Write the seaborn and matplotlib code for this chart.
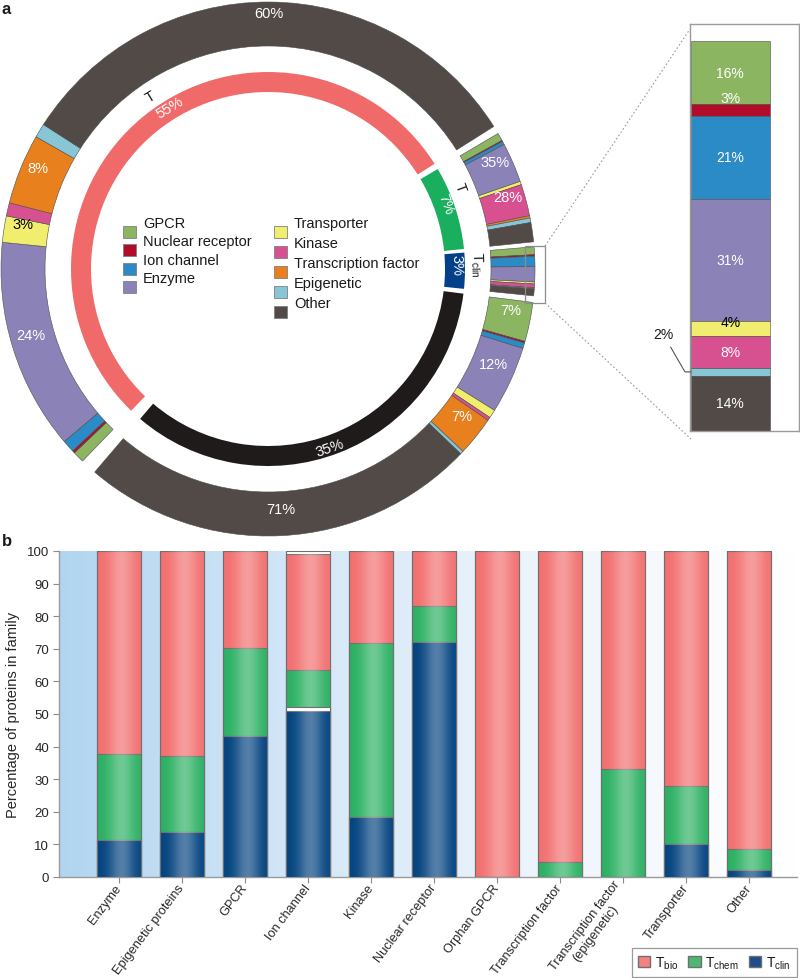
import numpy as np
import matplotlib
matplotlib.use("Agg")
import matplotlib.pyplot as plt
from matplotlib.patches import Rectangle, Patch
from matplotlib.colors import LinearSegmentedColormap
import seaborn as sns

# ---- panel a : target development level rings ----
tiers = ["Tbio", "Tchem", "Tclin", "Tdark"]
tier_pct = [55, 7, 3, 35]
tier_gap = [0.5, 0.3, 0.4, 1.0]          # blank space after each tier (% of circle)
tier_colors = ["#f06a6a", "#1aae5f", "#03408a", "#1f1b1b"]
tier_tags = ["T", "T", r"T$_{\mathrm{clin}}$", ""]

families = ["GPCR", "Nuclear receptor", "Ion channel", "Enzyme", "Transporter",
            "Kinase", "Transcription factor", "Epigenetic", "Other"]
family_colors = ["#8cb562", "#b10d2b", "#2a8bc7", "#8b83b8", "#f1ed6f",
                 "#d75190", "#e8801e", "#87c7d5", "#524a47"]

# share of every family inside a tier (%), same order as families
share_tbio = [1.3, 0.3, 1.4, 24, 3, 1.5, 8, 1.6, 60]
share_tchem = [7, 1, 3, 35, 3, 28, 2, 4, 17]
share_tclin = [16, 3, 21, 31, 4, 8, 0, 2, 14]
share_tdark = [7, 0.3, 1, 12, 1.5, 0.6, 7, 0.6, 71]

outer_labels = [("Tbio", "Enzyme"), ("Tbio", "Transporter"), ("Tbio", "Transcription factor"),
                ("Tbio", "Other"), ("Tchem", "Enzyme"), ("Tchem", "Kinase"),
                ("Tdark", "GPCR"), ("Tdark", "Enzyme"), ("Tdark", "Transcription factor"),
                ("Tdark", "Other")]

# ---- panel b : TDL per protein family (%) ----
fam_b = ["Enzyme", "Epigenetic proteins", "GPCR", "Ion channel", "Kinase",
         "Nuclear receptor", "Orphan GPCR", "Transcription factor",
         "Transcription factor\n(epigenetic)", "Transporter", "Other"]
tclin_b = [11.2, 13.8, 43.1, 51.0, 18.3, 72.2, 0, 0, 0, 10.2, 2.3]
gap_mid_b = [0, 0, 0, 1.0, 0, 0, 0, 0, 0, 0, 0]
tchem_b = [26.5, 23.2, 27.2, 11.5, 53.5, 10.9, 0, 4.6, 33.1, 17.6, 6.2]
tbio_b = [62.3, 63.0, 29.7, 35.5, 28.2, 16.9, 100, 95.4, 66.9, 72.2, 91.5]
gap_top_b = [0, 0, 0, 1.0, 0, 0, 0, 0, 0, 0, 0]
bar_colors = {"Tbio": "#f26f6f", "Tchem": "#2bb062", "Tclin": "#03437f"}

sns.set_style("white")
plt.rcParams["font.family"] = ["Liberation Sans", "DejaVu Sans"]
plt.rcParams["mathtext.fontset"] = "custom"
plt.rcParams["mathtext.rm"] = "Liberation Sans"
plt.rcParams["mathtext.it"] = "Liberation Sans:italic"
plt.rcParams["text.color"] = "#1a1a1a"

W, H = 800, 979
fig = plt.figure(figsize=(W / 100, H / 100), dpi=100)

# ring axes works in pixels (y up)
ax = fig.add_axes([0, 0, 1, 1])
cx, cy = 268, H - 270
r_in, w_in = 197, 20
r_out, w_out = 267, 44

total = sum(tier_pct) + sum(tier_gap)
starts = []
a = 226.0
for p, g in zip(tier_pct, tier_gap):
    starts.append(a)
    a -= 360 * (p + g) / total

vals, cols = [], []
for p, g, c in zip(tier_pct, tier_gap, tier_colors):
    vals += [p, g]
    cols += [c, "none"]
inner, _ = ax.pie(vals, colors=cols, radius=r_in, center=(cx, cy), startangle=226,
                  counterclock=False, wedgeprops=dict(width=w_in, linewidth=0))

shares = [share_tbio, share_tchem, share_tclin, share_tdark]
outer = {}
for k, t in enumerate(tiers):
    s = np.array(shares[k], float)
    v = s / s.sum() * tier_pct[k] / total
    wd, _ = ax.pie(v, colors=family_colors, radius=r_out, center=(cx, cy),
                   startangle=starts[k], counterclock=False, normalize=False,
                   wedgeprops=dict(width=w_out, edgecolor="#4d4d4d", linewidth=0.4))
    for i, f in enumerate(families):
        outer[(t, f)] = (wd[i], s[i])


def mid(w):
    m = 0.5 * (w.theta1 + w.theta2)
    return (m + 180) % 360 - 180


def polar(r, ang):
    return cx + r * np.cos(np.radians(ang)), cy + r * np.sin(np.radians(ang))


for t, f in outer_labels:
    w, s = outer[(t, f)]
    x, y = polar(248, mid(w))
    ax.text(x, y + 8, f"{s:.0f}%", color="black" if f == "Transporter" else "white",
            ha="center", va="center", fontsize=10.5)

label_shift = [-8, 2, 2, -2]
for k, t in enumerate(tiers):
    m = mid(inner[2 * k]) + label_shift[k]
    rot = m - 90 if m > -30 else m + 90
    x, y = polar(r_in - w_in / 2 + 2, m)
    ax.text(x, y, f"{tier_pct[k]}%", color="white", rotation=rot, rotation_mode="anchor",
            ha="center", va="center", fontsize=10.5)
    if tier_tags[k]:
        x, y = polar(r_in + 12, m + (3 if k < 2 else 0))
        ax.text(x, y, tier_tags[k], rotation=rot, rotation_mode="anchor",
                ha="center", va="center", fontsize=10.5)

# legend in the middle of the ring
for x0, names, y0, dy in [(123, families[:4], 224, 18.4), (274, families[4:], 224, 20)]:
    for i, name in enumerate(names):
        yt = y0 + i * dy
        ax.add_patch(Rectangle((x0, H - (yt + 15)), 13, 12,
                               facecolor=family_colors[families.index(name)],
                               edgecolor="#808080", lw=0.6))
        ax.text(x0 + 20, H - yt, name, ha="left", va="center", fontsize=10.5)

# zoom marker + connectors
ax.add_patch(Rectangle((525, H - 304), 20, 57, fill=False, edgecolor="#8c8c8c", lw=0.9))
ax.plot([545, 690], [H - 247, H - 30], ls=(0, (1.5, 2)), color="#9a9a9a", lw=0.8)
ax.plot([545, 691], [H - 304, H - 440], ls=(0, (1.5, 2)), color="#9a9a9a", lw=0.8)
ax.set_xlim(0, W)
ax.set_ylim(0, H)
ax.set_aspect("auto")
ax.axis("off")

# inset: Tclin breakdown
ax_in = fig.add_axes([690 / W, 1 - 432 / H, 109 / W, 407 / H])
s = np.array(share_tclin, float)
bottoms = np.concatenate([[0], np.cumsum(s)[:-1]])
ax_in.bar(np.full(len(s), 0.01), s, bottom=bottoms, width=0.72, align="edge",
          color=family_colors, edgecolor="#4d4d4d", linewidth=0.4)
ax_in.set_xlim(0, 1)
ax_in.set_ylim(s.sum(), -s.sum() * 17 / 390)
for i, f in enumerate(families):
    if s[i] == 0:
        continue
    lab = f"{s[i]:.0f}%"
    if f == "Nuclear receptor":
        ax_in.text(0.37, bottoms[i] - 1.6, lab, color="white", ha="center", va="center", fontsize=10)
    elif f == "Transporter":
        ax_in.text(0.37, bottoms[i] + 0.3, lab, color="black", ha="center", va="center", fontsize=10)
    elif f == "Epigenetic":
        ax_in.annotate(lab, xy=(0.01, bottoms[i] + s[i] / 2), xytext=(-20, 27),
                       textcoords="offset points", ha="center", va="center", fontsize=10,
                       annotation_clip=False,
                       arrowprops=dict(arrowstyle="-", color="#555555", lw=0.8, shrinkA=2, shrinkB=0,
                                       connectionstyle="angle,angleA=-60,angleB=0,rad=0"))
    else:
        ax_in.text(0.37, bottoms[i] + s[i] / 2, lab, color="white", ha="center", va="center", fontsize=10)
ax_in.set_xticks([])
ax_in.set_yticks([])
for sp in ax_in.spines.values():
    sp.set_color("#9a9a9a")
    sp.set_linewidth(1)

# ---- panel b ----
axb = fig.add_axes([59 / W, 1 - 878 / H, 738 / W, 326 / H])
xl = (-0.952, 10.762)
bg = LinearSegmentedColormap.from_list("bg", ["#b1d5f0", "#d4e7f7", "#eef5fc", "#ffffff"])
axb.imshow(np.linspace(0, 1, 256)[None, :], cmap=bg, extent=(xl[0], xl[1], 0, 100),
           aspect="auto", zorder=0)

c1 = np.array(tclin_b)
c2 = c1 + np.array(gap_mid_b)
c3 = c2 + np.array(tchem_b)
c4 = c3 + np.array(tbio_b)
c5 = c4 + np.array(gap_top_b)
layers = [(c5, "white", False), (c4, bar_colors["Tbio"], True), (c3, bar_colors["Tchem"], True),
          (c2, "white", False), (c1, bar_colors["Tclin"], True)]

g = np.linspace(0, 1, 64)
shine = np.ones((1, 64, 4))
shine[..., 3] = 0.32 * np.exp(-((g - 0.55) / 0.28) ** 2)

for j, (h, col, shade) in enumerate(layers):
    n0 = len(axb.patches)
    sns.barplot(x=fam_b, y=h, color=col, saturation=1, width=0.7, edgecolor="#6e6e6e",
                linewidth=0.8, errorbar=None, ax=axb)
    z = 2 + 2 * j
    for p in axb.patches[n0:]:
        p.set_zorder(z)
        if shade and p.get_height() > 0:
            x0, y0 = p.get_x(), p.get_y()
            im = axb.imshow(shine, extent=(x0, x0 + p.get_width(), y0, y0 + p.get_height()),
                            aspect="auto", zorder=z + 0.5, interpolation="bilinear")
            im.set_clip_path(p)

axb.set_xlim(xl)
axb.set_ylim(0, 100)
axb.set_yticks(range(0, 101, 10))
axb.set_xticks(range(len(fam_b)))
axb.set_xticklabels(fam_b, rotation=53, ha="right", va="center", rotation_mode="anchor",
                    multialignment="center", fontsize=9.2)
axb.tick_params(axis="both", length=4, width=0.8, color="#8a8a8a", labelsize=9.5,
                left=True, bottom=True, pad=3)
axb.tick_params(axis="x", labelsize=9.2, pad=2)
axb.set_xlabel("")
axb.set_ylabel("Percentage of proteins in family", fontsize=10.5, labelpad=5)
sns.despine(ax=axb)
for sp in ["left", "bottom"]:
    axb.spines[sp].set_color("#9a9a9a")
    axb.spines[sp].set_linewidth(1)

handles = [Patch(facecolor="#f58181", edgecolor="#707070", label=r"T$_{\mathrm{bio}}$"),
           Patch(facecolor="#4cb874", edgecolor="#707070", label=r"T$_{\mathrm{chem}}$"),
           Patch(facecolor="#1d4d8a", edgecolor="#707070", label=r"T$_{\mathrm{clin}}$")]
leg = axb.legend(handles=handles, ncol=3, loc="lower right", bbox_to_anchor=(797 / W, 1 / H),
                 bbox_transform=fig.transFigure, fancybox=False, edgecolor="#9a9a9a",
                 fontsize=10, handlelength=0.9, handleheight=0.9, handletextpad=0.35,
                 columnspacing=0.7, borderpad=0.45, borderaxespad=0, framealpha=1)
leg.get_frame().set_linewidth(0.9)

fig.text(2 / W, 1 - 2 / H, "a", fontsize=12, fontweight="bold", va="top")
fig.text(2 / W, 1 - 534 / H, "b", fontsize=12, fontweight="bold", va="top")

fig.savefig("out.png", dpi=100)
